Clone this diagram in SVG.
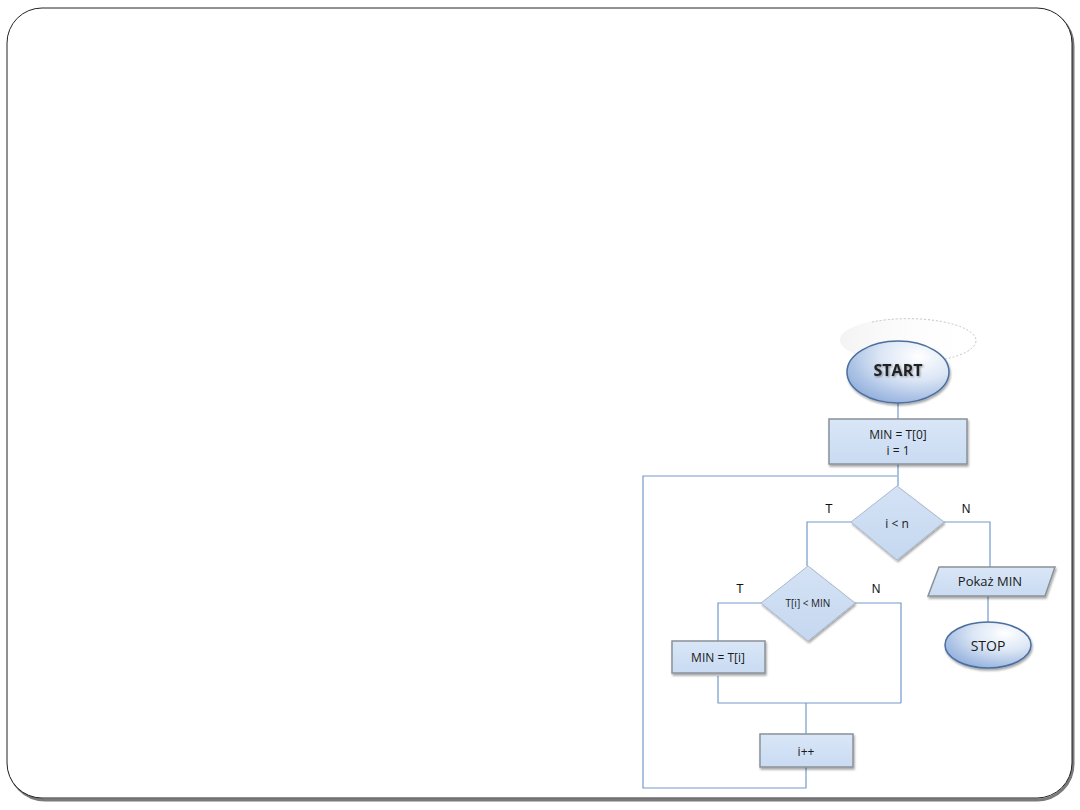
<svg xmlns="http://www.w3.org/2000/svg" width="1080" height="810" viewBox="0 0 1080 810">
<defs>
<style>
.conn{fill:none;stroke:#7299cc;stroke-width:1.2}
.shape{fill:url(#boxg);stroke:#8a9199;stroke-width:1.5}
.dia{fill:url(#diag);stroke:#a9b9cc;stroke-width:1}
.t{font-family:"Open Sans","Liberation Sans",sans-serif;font-size:12px;fill:#1a1a1a;text-anchor:middle;dominant-baseline:central}
.lbl{font-family:"Liberation Sans",sans-serif;font-size:12px;fill:#111;text-anchor:middle;dominant-baseline:central}
</style>
<linearGradient id="boxg" x1="0" y1="0" x2="0" y2="1">
<stop offset="0" stop-color="#d9e6f7"/><stop offset="1" stop-color="#c9dbf2"/>
</linearGradient>
<linearGradient id="diag" x1="0" y1="0" x2="0" y2="1">
<stop offset="0" stop-color="#d4e2f5"/><stop offset="1" stop-color="#c5d8f0"/>
</linearGradient>
<linearGradient id="glow" x1="0" y1="0" x2="1" y2="0">
<stop offset="0" stop-color="#f2f2f2" stop-opacity="0.9"/><stop offset="1" stop-color="#ffffff" stop-opacity="0"/>
</linearGradient>
<radialGradient id="ellg" cx="0.7" cy="0.25" r="0.85">
<stop offset="0" stop-color="#ffffff"/><stop offset="0.45" stop-color="#dbe6f5"/><stop offset="1" stop-color="#8eacdb"/>
</radialGradient>
<filter id="sh" x="-20%" y="-20%" width="140%" height="150%">
<feDropShadow dx="1" dy="2" stdDeviation="1.2" flood-color="#000" flood-opacity="0.35"/>
</filter>
<filter id="tsh" x="-20%" y="-20%" width="140%" height="150%">
<feDropShadow dx="1" dy="1" stdDeviation="0.8" flood-color="#000" flood-opacity="0.4"/>
</filter>
</defs>
<rect width="1080" height="810" fill="#ffffff"/>
<g id="frame">
<rect x="9" y="10" width="1064" height="790" rx="36" ry="36" fill="none" stroke="#7a7a7a" stroke-width="3"/>
<rect x="7" y="8" width="1065" height="790" rx="35" ry="35" fill="#ffffff" stroke="#222" stroke-width="1"/>
</g>
<g id="connectors">
<line class="conn" x1="898" y1="402" x2="898" y2="419"/>
<line class="conn" x1="898" y1="464" x2="898" y2="486"/>
<polyline class="conn" points="851,522 807,522 807,566"/>
<polyline class="conn" points="944,522 990,522 990,567"/>
<line class="conn" x1="988" y1="596" x2="988" y2="622"/>
<polyline class="conn" points="761,603 718,603 718,641"/>
<polyline class="conn" points="855,603 901,603 901,703"/>
<polyline class="conn" points="718,676 718,703 901,703"/>
<line class="conn" x1="806" y1="703" x2="806" y2="734"/>
<polyline class="conn" points="806,767 806,788 643,788 643,476 897,476"/>
</g>
<g id="start">
<ellipse cx="908" cy="340" rx="68" ry="22" fill="url(#glow)" stroke="none"/>
<path d="M 872 322 A 68 22 0 0 1 976 340 A 68 22 0 0 1 940 360" fill="none" stroke="#c4c4c4" stroke-width="1" stroke-dasharray="2 2"/>
<ellipse cx="898" cy="372" rx="51" ry="31" fill="url(#ellg)" stroke="#4a6f9e" stroke-width="1.5" filter="url(#sh)"/>
<text x="898" y="370" font-family="'Open Sans','Liberation Sans',sans-serif" font-size="16" font-weight="bold" fill="#222" text-anchor="middle" dominant-baseline="central" filter="url(#tsh)">START</text>
</g>
<g id="init">
<rect class="shape" x="829" y="419" width="138" height="45" filter="url(#sh)"/>
<text class="t" x="898" y="434">MIN = T[0]</text>
<text class="t" x="898" y="450">i = 1</text>
</g>
<g id="cond1">
<polygon class="dia" points="897,486 944,522 897,560 851,522" filter="url(#sh)"/>
<text class="t" x="897" y="523">i &lt; n</text>
<text class="lbl" x="829" y="509">T</text>
<text class="lbl" x="966" y="509">N</text>
</g>
<g id="cond2">
<polygon class="dia" points="808,566 855,603 808,641 761,603" filter="url(#sh)"/>
<text class="t" x="808" y="603" style="font-size:10px">T[i] &lt; MIN</text>
<text class="lbl" x="740" y="589">T</text>
<text class="lbl" x="876" y="589">N</text>
</g>
<g id="assign">
<rect class="shape" x="672" y="641" width="93" height="32" filter="url(#sh)"/>
<text class="t" x="718" y="657">MIN = T[i]</text>
</g>
<g id="incr">
<rect class="shape" x="760" y="734" width="93" height="33" filter="url(#sh)"/>
<text class="t" x="806" y="751">i++</text>
</g>
<g id="output">
<polygon class="shape" points="939,567 1055,567 1045,596 928,596" filter="url(#sh)"/>
<text class="t" x="990" y="581" style="font-size:13px">Pokaż MIN</text>
</g>
<g id="stop">
<ellipse cx="988" cy="645" rx="43" ry="23" fill="url(#ellg)" stroke="#4a6f9e" stroke-width="1.5" filter="url(#sh)"/>
<text class="t" x="988" y="645" style="font-size:14px">STOP</text>
</g>
</svg>
